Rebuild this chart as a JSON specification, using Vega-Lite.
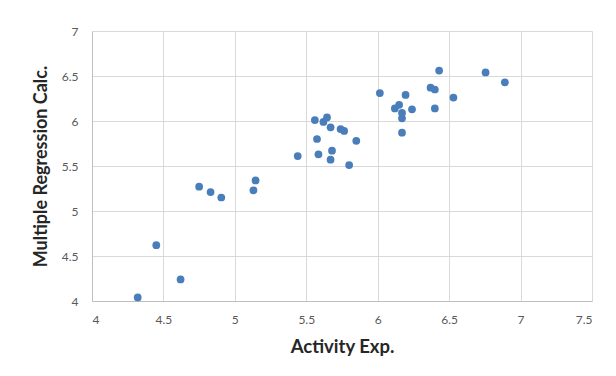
{
  "$schema": "https://vega.github.io/schema/vega-lite/v6.json",
  "autosize": "none",
  "width": 500,
  "height": 270,
  "padding": {"left": 92, "top": 31, "right": 24, "bottom": 75},
  "background": "white",
  "config": {
    "view": {"stroke": null},
    "font": "Lato"
  },
  "data": {
    "values": [
      {"act": 4.32, "calc": 4.04},
      {"act": 4.62, "calc": 4.24},
      {"act": 4.45, "calc": 4.62},
      {"act": 4.75, "calc": 5.27},
      {"act": 4.83, "calc": 5.21},
      {"act": 4.905, "calc": 5.15},
      {"act": 5.145, "calc": 5.34},
      {"act": 5.13, "calc": 5.23},
      {"act": 5.44, "calc": 5.61},
      {"act": 5.56, "calc": 6.01},
      {"act": 5.575, "calc": 5.8},
      {"act": 5.585, "calc": 5.63},
      {"act": 5.645, "calc": 6.04},
      {"act": 5.62, "calc": 5.99},
      {"act": 5.67, "calc": 5.93},
      {"act": 5.68, "calc": 5.67},
      {"act": 5.67, "calc": 5.57},
      {"act": 5.74, "calc": 5.91},
      {"act": 5.765, "calc": 5.89},
      {"act": 5.85, "calc": 5.78},
      {"act": 5.8, "calc": 5.51},
      {"act": 6.015, "calc": 6.31},
      {"act": 6.195, "calc": 6.29},
      {"act": 6.15, "calc": 6.18},
      {"act": 6.12, "calc": 6.14},
      {"act": 6.17, "calc": 6.09},
      {"act": 6.17, "calc": 6.03},
      {"act": 6.24, "calc": 6.13},
      {"act": 6.17, "calc": 5.87},
      {"act": 6.43, "calc": 6.56},
      {"act": 6.37, "calc": 6.37},
      {"act": 6.4, "calc": 6.35},
      {"act": 6.4, "calc": 6.14},
      {"act": 6.53, "calc": 6.26},
      {"act": 6.755, "calc": 6.54},
      {"act": 6.89, "calc": 6.43}
    ]
  },
  "mark": {"type": "point", "filled": true, "opacity": 1, "size": 60, "color": "#4A7EBB"},
  "encoding": {
    "x": {
      "field": "act", "type": "quantitative",
      "scale": {"domain": [4, 7.5], "nice": false, "zero": false},
      "axis": {
        "title": "Activity Exp.",
        "values": [4, 4.5, 5, 5.5, 6, 6.5, 7, 7.5],
        "format": "~g",
        "grid": true, "gridColor": "#d9d9d9", "gridWidth": 1,
        "domainColor": "#bfbfbf", "ticks": false,
        "labelColor": "#595959", "labelFontSize": 12, "labelPadding": 13,
        "titleFontSize": 18.5, "titleFontWeight": "bold", "titleColor": "#262626", "titlePadding": 12
      }
    },
    "y": {
      "field": "calc", "type": "quantitative",
      "scale": {"domain": [4, 7], "nice": false, "zero": false},
      "axis": {
        "title": "Multiple Regression Calc.",
        "values": [4, 4.5, 5, 5.5, 6, 6.5, 7],
        "format": "~g",
        "grid": true, "gridColor": "#d9d9d9", "gridWidth": 1,
        "domainColor": "#bfbfbf", "ticks": false,
        "labelColor": "#595959", "labelFontSize": 12, "labelPadding": 14,
        "titleFontSize": 18, "titleFontWeight": "bold", "titleColor": "#262626", "titlePadding": 11
      }
    }
  }
}
